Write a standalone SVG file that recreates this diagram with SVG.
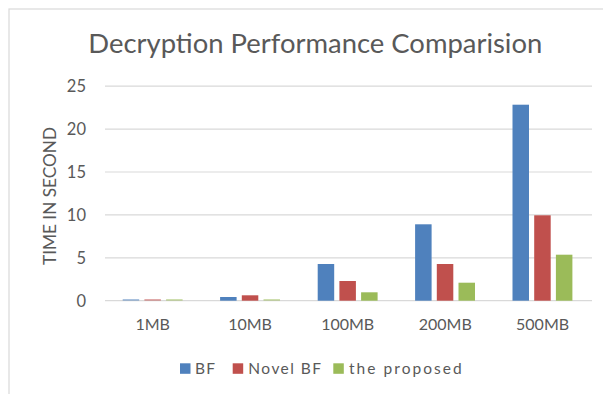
<svg xmlns="http://www.w3.org/2000/svg" width="603" height="394" viewBox="0 0 603 394">
  <style>
    .txt { font-family: Lato, "Open Sans", "Liberation Sans", sans-serif; fill: #595959; }
    .grid { stroke: #D9D9D9; stroke-width: 1.2; }
    .bf { fill: #4F81BD; }
    .nbf { fill: #C0504D; }
    .prop { fill: #9BBB59; }
  </style>
  <rect x="0" y="0" width="603" height="394" fill="#FFFFFF"/>
  <rect id="frame" x="9" y="9" width="700" height="500" fill="#FFFFFF" stroke="#D9D9D9" stroke-width="1.2"/>

  <g id="title">
    <text class="txt" x="88.3" y="52.7" font-size="27.5" textLength="454" lengthAdjust="spacingAndGlyphs">Decryption Performance Comparision</text>
  </g>

  <g id="gridlines">
    <line class="grid" x1="105" y1="86.2" x2="592" y2="86.2"/>
    <line class="grid" x1="105" y1="129.1" x2="592" y2="129.1"/>
    <line class="grid" x1="105" y1="172" x2="592" y2="172"/>
    <line class="grid" x1="105" y1="214.9" x2="592" y2="214.9"/>
    <line class="grid" x1="105" y1="257.8" x2="592" y2="257.8"/>
    <line class="grid" x1="105" y1="300.7" x2="592" y2="300.7"/>
  </g>

  <g id="y-axis" class="txt" font-size="16.5" text-anchor="end">
    <text x="86" y="92">25</text>
    <text x="86" y="135">20</text>
    <text x="86" y="178">15</text>
    <text x="86" y="221">10</text>
    <text x="86" y="264">5</text>
    <text x="86" y="306.5">0</text>
  </g>
  <g id="y-title">
    <text class="txt" font-size="16.5" text-anchor="middle" transform="translate(55.5,196) rotate(-90)" textLength="138" lengthAdjust="spacingAndGlyphs">TIME IN SECOND</text>
  </g>

  <g id="bars">
    <g id="cat-1MB">
      <rect class="bf" x="122.7" y="299.2" width="16.5" height="1.5" opacity="0.6"/>
      <rect class="nbf" x="144.4" y="299.2" width="16.5" height="1.5" opacity="0.6"/>
      <rect class="prop" x="166.1" y="299.2" width="16.5" height="1.5" opacity="0.6"/>
    </g>
    <g id="cat-10MB">
      <rect class="bf" x="220.1" y="297" width="16.5" height="3.7"/>
      <rect class="nbf" x="241.8" y="295.3" width="16.5" height="5.4"/>
      <rect class="prop" x="263.5" y="299.2" width="16.5" height="1.5" opacity="0.6"/>
    </g>
    <g id="cat-100MB">
      <rect class="bf" x="317.7" y="264" width="16.5" height="36.7"/>
      <rect class="nbf" x="339.4" y="281" width="16.5" height="19.7"/>
      <rect class="prop" x="361.1" y="292.3" width="16.5" height="8.4"/>
    </g>
    <g id="cat-200MB">
      <rect class="bf" x="415.1" y="224.3" width="16.5" height="76.4"/>
      <rect class="nbf" x="436.8" y="264" width="16.5" height="36.7"/>
      <rect class="prop" x="458.5" y="282.7" width="16.5" height="18"/>
    </g>
    <g id="cat-500MB">
      <rect class="bf" x="512.5" y="104.7" width="16.5" height="196"/>
      <rect class="nbf" x="534.2" y="215.3" width="16.5" height="85.4"/>
      <rect class="prop" x="555.9" y="254.7" width="16.5" height="46"/>
    </g>
  </g>

  <g id="x-axis" class="txt" font-size="16" text-anchor="middle">
    <text x="152.7" y="330">1MB</text>
    <text x="250.1" y="330">10MB</text>
    <text x="347.7" y="330">100MB</text>
    <text x="445.3" y="330">200MB</text>
    <text x="542.6" y="330">500MB</text>
  </g>

  <g id="legend">
    <rect class="bf" x="180" y="363.3" width="10.5" height="10.5"/>
    <text class="txt" x="195" y="374" font-size="15.5" textLength="20" lengthAdjust="spacing">BF</text>
    <rect class="nbf" x="232.7" y="363.3" width="10.5" height="10.5"/>
    <text class="txt" x="248.3" y="374" font-size="15.5" textLength="72.7" lengthAdjust="spacing">Novel BF</text>
    <rect class="prop" x="333.3" y="363.3" width="10.5" height="10.5"/>
    <text class="txt" x="349" y="374" font-size="15.5" textLength="112.7" lengthAdjust="spacing">the proposed</text>
  </g>
</svg>
